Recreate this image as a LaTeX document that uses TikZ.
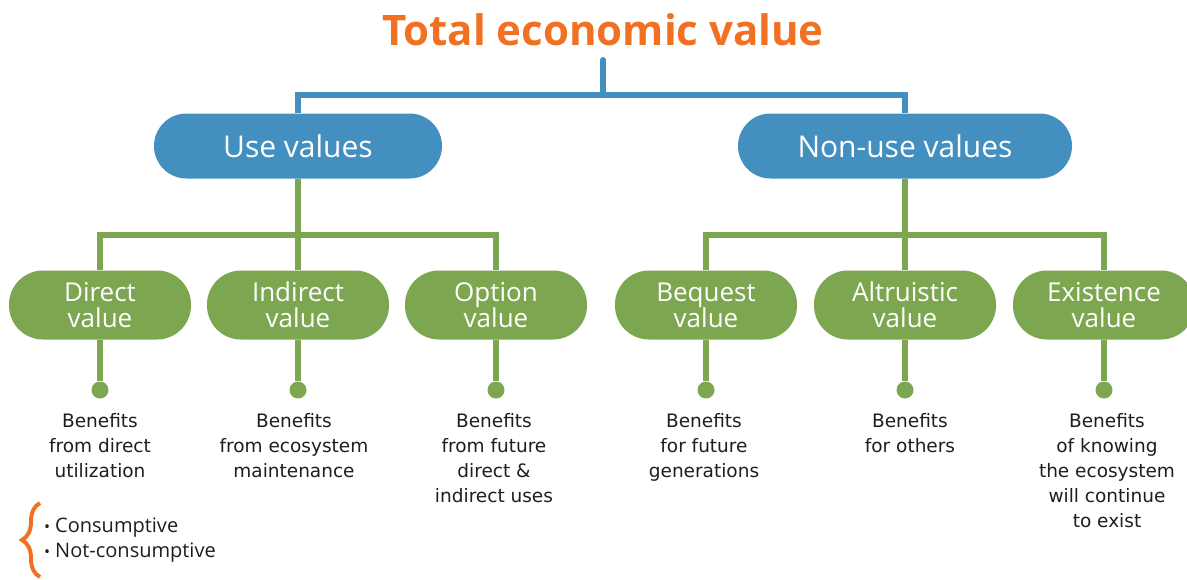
\documentclass[tikz,border=0pt]{standalone}
\usepackage{fontspec}
\setmainfont{Open Sans}
\newfontfamily\bodyfont{DejaVu Sans}
\usetikzlibrary{decorations.pathreplacing}
\definecolor{tevorange}{RGB}{241,112,34}
\definecolor{tevblue}{RGB}{67,144,192}
\definecolor{tevgreen}{RGB}{124,166,80}
\definecolor{tevtext}{RGB}{30,30,30}
\newcommand{\tevbullet}{{\fontsize{16}{16}\selectfont\textbullet}\hspace{5pt}}
\tikzset{
  bluepill/.style={draw=none, fill=tevblue, text=white, rounded corners=32.5pt,
    minimum height=65pt, inner sep=0pt, font=\fontsize{30}{32}\selectfont},
  greenpill/.style={draw=none, fill=tevgreen, text=white, rounded corners=34pt,
    minimum height=69pt, minimum width=182pt, inner sep=0pt, align=center,
    font=\fontsize{26}{26}\selectfont},
  blueline/.style={draw=tevblue, line width=6pt},
  greenline/.style={draw=tevgreen, line width=6pt},
  enddot/.style={circle, fill=tevgreen, minimum size=17pt, inner sep=0pt},
  benefit/.style={anchor=north, align=center, text=tevtext, inner sep=0pt,
    font=\bodyfont\fontsize{18.5}{25}\selectfont},
}
\begin{document}
\begin{tikzpicture}[x=1pt,y=-1pt]
\useasboundingbox[fill=white] (0,0) rectangle (1187,579);
% title
\node[text=tevorange, font=\bfseries\fontsize{42}{44}\selectfont, inner sep=0pt] (title) at (603,30) {Total economic value};
\coordinate (tstem) at (603,60);
\coordinate (jb) at (603,95);
% top pills
\node[bluepill, minimum width=288pt] (use) at (298,146) {Use values};
\node[bluepill, minimum width=334pt] (nonuse) at (905,146) {Non-use values};
\draw[blueline, line cap=round] (tstem) -- (jb);
\draw[blueline] (use.north) |- (jb) -| (nonuse.north);
% green pills
\node[greenpill] (direct) at (100,305) {Direct\\value};
\node[greenpill] (indirect) at (298,305) {Indirect\\value};
\node[greenpill] (option) at (496,305) {Option\\value};
\node[greenpill] (bequest) at (706,305) {Bequest\\value};
\node[greenpill] (altru) at (905,305) {Altruistic\\value};
\node[greenpill] (exist) at (1104,305) {Existence\\value};
\coordinate (jg1) at (298,235);
\coordinate (jg2) at (905,235);
\draw[greenline] (use.south) -- (jg1);
\draw[greenline] (direct.north) -- (direct.north |- jg1) -- (option.north |- jg1) -- (option.north);
\draw[greenline] (jg1) -- (indirect.north);
\draw[greenline] (nonuse.south) -- (jg2);
\draw[greenline] (bequest.north) -- (bequest.north |- jg2) -- (exist.north |- jg2) -- (exist.north);
\draw[greenline] (jg2) -- (altru.north);
% dots
\node[enddot] (d1) at (100,390) {};
\node[enddot] (d2) at (298,390) {};
\node[enddot] (d3) at (496,390) {};
\node[enddot] (d4) at (706,390) {};
\node[enddot] (d5) at (905,390) {};
\node[enddot] (d6) at (1104,390) {};
\draw[greenline] (direct.south) -- (d1);
\draw[greenline] (indirect.south) -- (d2);
\draw[greenline] (option.south) -- (d3);
\draw[greenline] (bequest.south) -- (d4);
\draw[greenline] (altru.south) -- (d5);
\draw[greenline] (exist.south) -- (d6);
% benefit texts
\node[benefit] (b1) at (100,413) {Benefits\\from direct\\utilization};
\node[benefit] (b2) at (294,413) {Benefits\\from ecosystem\\maintenance};
\node[benefit] (b3) at (494,413) {Benefits\\from future\\direct \&\\indirect uses};
\node[benefit] (b4) at (704,413) {Benefits\\for future\\generations};
\node[benefit] (b5) at (910,413) {Benefits\\for others};
\node[benefit] (b6) at (1107,413) {Benefits\\of knowing\\the ecosystem\\will continue\\to exist};
% brace and bullets
\draw[tevorange, line width=4pt, decorate, decoration={brace, amplitude=18pt}] (40,577) -- (40,503);
\node[anchor=west, align=left, text=tevtext, inner sep=0pt, font=\fontsize{20}{25}\selectfont] (bul) at (44,540) {\tevbullet Consumptive\\\tevbullet Not-consumptive};
\end{tikzpicture}
\end{document}
